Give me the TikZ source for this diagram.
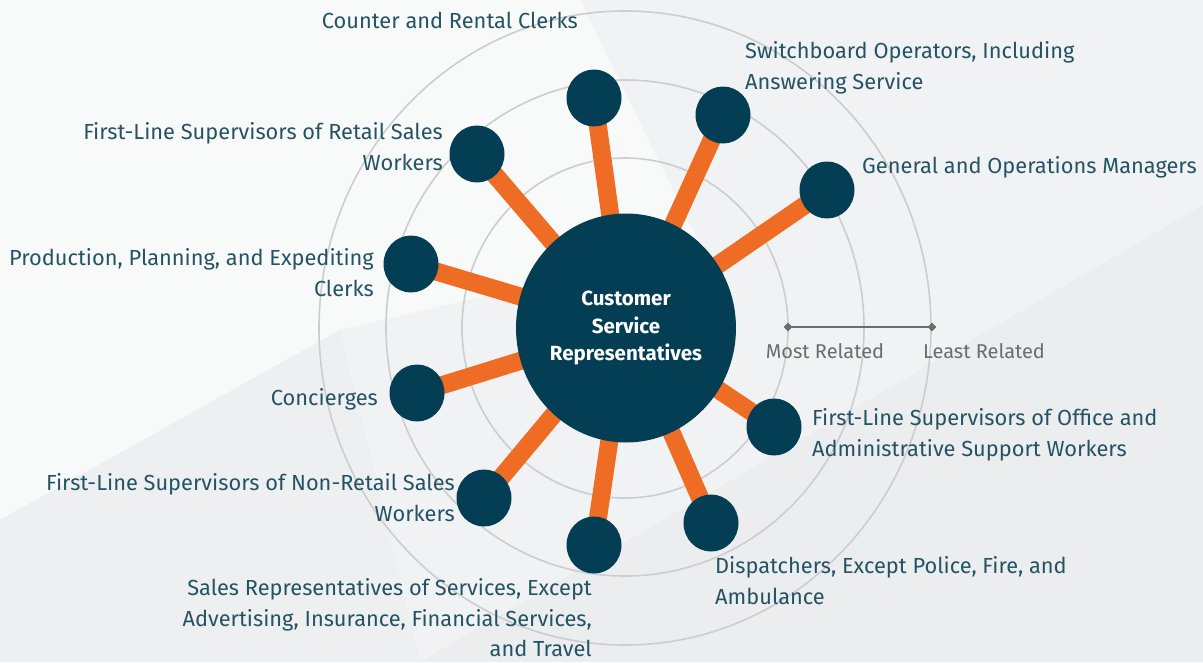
\documentclass[tikz,border=0pt]{standalone}
\usepackage{fontspec}
\setmainfont{Fira Sans}
\usetikzlibrary{shapes.geometric}
\pgfdeclarelayer{back}
\pgfdeclarelayer{mid}
\pgfsetlayers{back,mid,main}
\definecolor{navy}{RGB}{3,62,85}
\definecolor{orng}{RGB}{238,108,36}
\definecolor{lbl}{RGB}{36,84,100}
\definecolor{ring}{RGB}{204,205,206}
\definecolor{scalec}{RGB}{108,108,108}
\definecolor{bgA}{RGB}{241,242,243}
\definecolor{bgB}{RGB}{248,249,249}
\definecolor{bgC}{RGB}{235,237,238}
\definecolor{bgD}{RGB}{237,239,240}
\tikzset{
  hub/.style={ellipse, fill=navy, minimum width=220, minimum height=229, inner sep=0pt,
    text=white, align=center, font=\fontsize{20.5}{27.5}\selectfont\bfseries},
  leaf/.style={ellipse, fill=navy, minimum width=55, minimum height=57, inner sep=0pt},
  conn/.style={draw=orng, line width=18pt},
  lab/.style={text=lbl, inner sep=0pt, font=\fontsize{21.8}{30.5}\selectfont},
  labr/.style={lab, align=right, anchor=base east},
  labl/.style={lab, align=left, anchor=base west},
  ringline/.style={draw=ring, line width=1.6pt},
  scaletxt/.style={text=scalec, inner sep=0pt, anchor=base, font=\fontsize{20}{24}\selectfont},
  tick/.style={diamond, fill=scalec, minimum width=9, minimum height=9, inner sep=0pt}
}
\begin{document}
\begin{tikzpicture}[x=1pt,y=-1pt]
\useasboundingbox (0,0) rectangle (1203,662);
% background
\begin{pgfonlayer}{back}
\fill[bgA] (0,0) rectangle (1203,662);
\fill[bgB] (0,0) -- (580,0) -- (700,245) -- (340,330) -- (0,520) -- cycle;
\fill[bgC] (420,662) -- (1203,205) -- (1203,662) -- cycle;
\fill[bgD] (0,520) -- (340,330) -- (420,662) -- (0,662) -- cycle;
% rings
\draw[ringline] (625,328) ellipse [x radius=163, y radius=170];
\draw[ringline] (625,328) ellipse [x radius=239, y radius=248];
\draw[ringline] (625,328) ellipse [x radius=306, y radius=317];
\end{pgfonlayer}
% hub and leaves
\node[hub] (c) at (626,328) {Customer\\Service\\Representatives};
\node[leaf] (n1) at (594,98) {};
\node[leaf] (n2) at (723,115) {};
\node[leaf] (n3) at (827,190) {};
\node[leaf] (n4) at (477,154) {};
\node[leaf] (n5) at (411,264) {};
\node[leaf] (n6) at (417,393) {};
\node[leaf] (n7) at (484,498) {};
\node[leaf] (n8) at (594,545) {};
\node[leaf] (n9) at (711,523) {};
\node[leaf] (n10) at (774,427) {};
% connectors
\begin{pgfonlayer}{mid}
\foreach \n in {n1,n2,n3,n4,n5,n6,n7,n8,n9,n10}
  \draw[conn] (c.center) -- (\n.center);
\end{pgfonlayer}
% labels (anchored at the baseline of the last line)
\node[labr] (t1) at (578,28) {Counter and Rental Clerks};
\node[labl] (t2) at (745,89) {Switchboard Operators, Including\\Answering Service};
\node[labl] (t3) at (862,173) {General and Operations Managers};
\node[labr] (t4) at (443,170) {First-Line Supervisors of Retail Sales\\Workers};
\node[labr] (t5) at (374,296) {Production, Planning, and Expediting\\Clerks};
\node[labr] (t6) at (378,405) {Concierges};
\node[labr] (t7) at (455,521) {First-Line Supervisors of Non-Retail Sales\\Workers};
\node[labr] (t8) at (592,656.5) {Sales Representatives of Services, Except\\Advertising, Insurance, Financial Services,\\and Travel};
\node[labl] (t9) at (715,604) {Dispatchers, Except Police, Fire, and\\Ambulance};
\node[labl] (t10) at (812,456) {First-Line Supervisors of Office and\\Administrative Support Workers};
% scale
\node[tick] (sm) at (788,327) {};
\node[tick] (sl) at (932,327) {};
\draw[scalec, line width=2pt] (sm.center) -- (sl.center);
\node[scaletxt] (most) at (825,358) {Most Related};
\node[scaletxt] (least) at (984,358) {Least Related};
\end{tikzpicture}
\end{document}
